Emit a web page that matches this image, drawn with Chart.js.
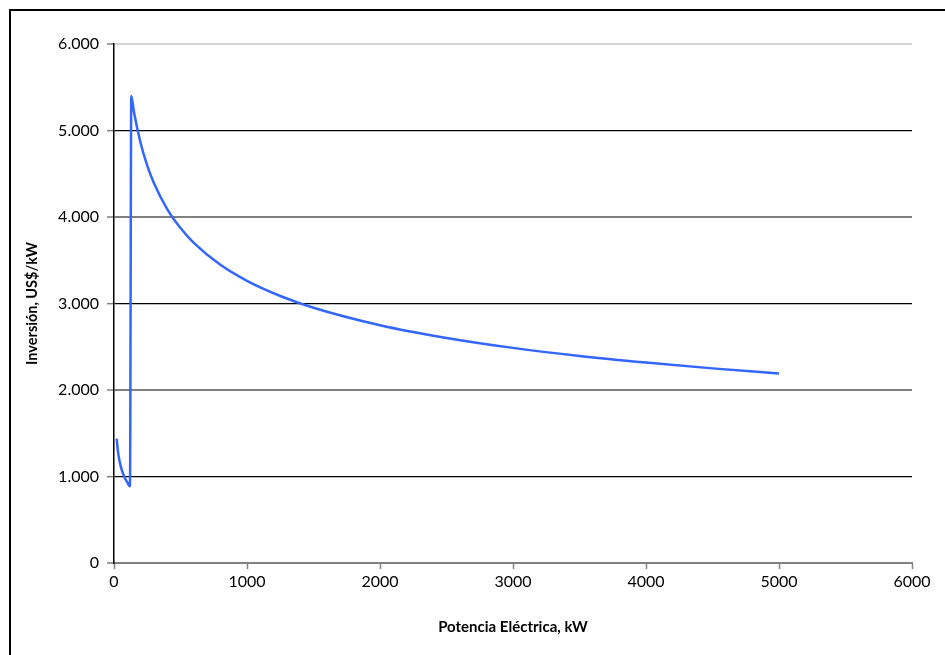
<!DOCTYPE html>
<html>
<head>
<meta charset="utf-8">
<script src="https://cdn.jsdelivr.net/npm/chart.js@4.4.1/dist/chart.umd.min.js"></script>
<style>
    html, body { margin: 0; padding: 0; background: #fff; }
    #wrap { position: relative; width: 945px; height: 655px; overflow: hidden; }
    #frame { position: absolute; left: 9px; top: 9px; width: 960px; height: 700px; border: 2px solid #000; box-sizing: border-box; }
    #chart { position: absolute; left: 0; top: 0; }
</style>
</head>
<body>
<div id="wrap">
    <div id="frame"></div>
    <canvas id="chart" width="945" height="655"></canvas>
</div>
<script>
// small plants (left branch)
const potenciaBaja = [20, 30, 40, 60, 80, 100, 120];
const inversionBaja = [1437, 1288, 1192, 1068, 988, 931, 886];

// larger plants (right branch)
const potenciaAlta = [130, 150, 200, 250, 300, 400, 500, 600, 800, 1000, 1250, 1500,
    2000, 2500, 3000, 3500, 4000, 4500, 5000];
const inversionAlta = [5400, 5213, 4855, 4595, 4392, 4091, 3872, 3701, 3447, 3262, 3087, 2951,
    2749, 2602, 2487, 2394, 2317, 2250, 2192];

const xTicks = [0, 1000, 2000, 3000, 4000, 5000, 6000];
const yTicks = [0, 1000, 2000, 3000, 4000, 5000, 6000];

let points = [];
potenciaBaja.forEach(function (x, i) {
    points.push({x: x, y: inversionBaja[i]});
});
potenciaAlta.forEach(function (x, i) {
    points.push({x: x, y: inversionAlta[i]});
});

function formatMiles(v) {
    if (v === 0) return '0';
    return v.toLocaleString('de-DE');
}

const fontFamily = "Lato, 'Open Sans', sans-serif";

let ctx = document.getElementById('chart').getContext('2d');
let chart = new Chart(ctx, {
    type: 'scatter',
    data: {
        datasets: [{
            data: points,
            showLine: true,
            borderColor: '#3366FF',
            backgroundColor: '#3366FF',
            borderWidth: 2.5,
            pointRadius: 0,
            tension: 0.3,
            cubicInterpolationMode: 'monotone'
        }]
    },
    options: {
        responsive: false,
        animation: false,
        layout: {
            padding: {left: 0, top: 44, right: 33, bottom: 0}
        },
        plugins: {
            legend: {display: false},
            tooltip: {enabled: false}
        },
        scales: {
            x: {
                type: 'linear',
                min: 0,
                max: 6000,
                afterBuildTicks: function (scale) {
                    scale.ticks = xTicks.map(function (v) { return {value: v}; });
                },
                afterFit: function (scale) {
                    scale.height = 92;
                },
                grid: {
                    drawOnChartArea: false,
                    tickLength: 6,
                    tickColor: '#808080',
                    tickWidth: 1.5
                },
                border: {color: '#808080', width: 2},
                ticks: {
                    color: '#000',
                    padding: 3,
                    maxRotation: 0,
                    font: {family: fontFamily, size: 16},
                    callback: function (v) { return String(v); }
                },
                title: {
                    display: true,
                    text: 'Potencia Eléctrica, kW',
                    color: '#000',
                    padding: {top: 0, bottom: 19},
                    font: {family: fontFamily, size: 15, weight: 'bold'}
                }
            },
            y: {
                min: 0,
                max: 6000,
                afterBuildTicks: function (scale) {
                    scale.ticks = yTicks.map(function (v) { return {value: v}; });
                },
                afterFit: function (scale) {
                    scale.width = 114;
                },
                grid: {
                    color: function (c) {
                        let v = c.tick ? c.tick.value : 0;
                        if (v === 6000) return '#d4d4d4';
                        return (v / 1000) % 2 === 1 ? '#000000' : '#808080';
                    },
                    lineWidth: function (c) {
                        let v = c.tick ? c.tick.value : 0;
                        return (v / 1000) % 2 === 1 ? 1.3 : 2;
                    },
                    tickLength: 7,
                    tickColor: '#808080',
                    tickWidth: 1.5
                },
                border: {color: '#000', width: 1.5},
                ticks: {
                    color: '#000',
                    padding: 8,
                    font: {family: fontFamily, size: 16},
                    callback: function (v) { return formatMiles(v); }
                },
                title: {
                    display: true,
                    text: 'Inversión, US$/kW',
                    color: '#000',
                    padding: {top: 24, bottom: 0},
                    font: {family: fontFamily, size: 14.5, weight: 'bold'}
                }
            }
        }
    }
});
</script>
</body>
</html>
